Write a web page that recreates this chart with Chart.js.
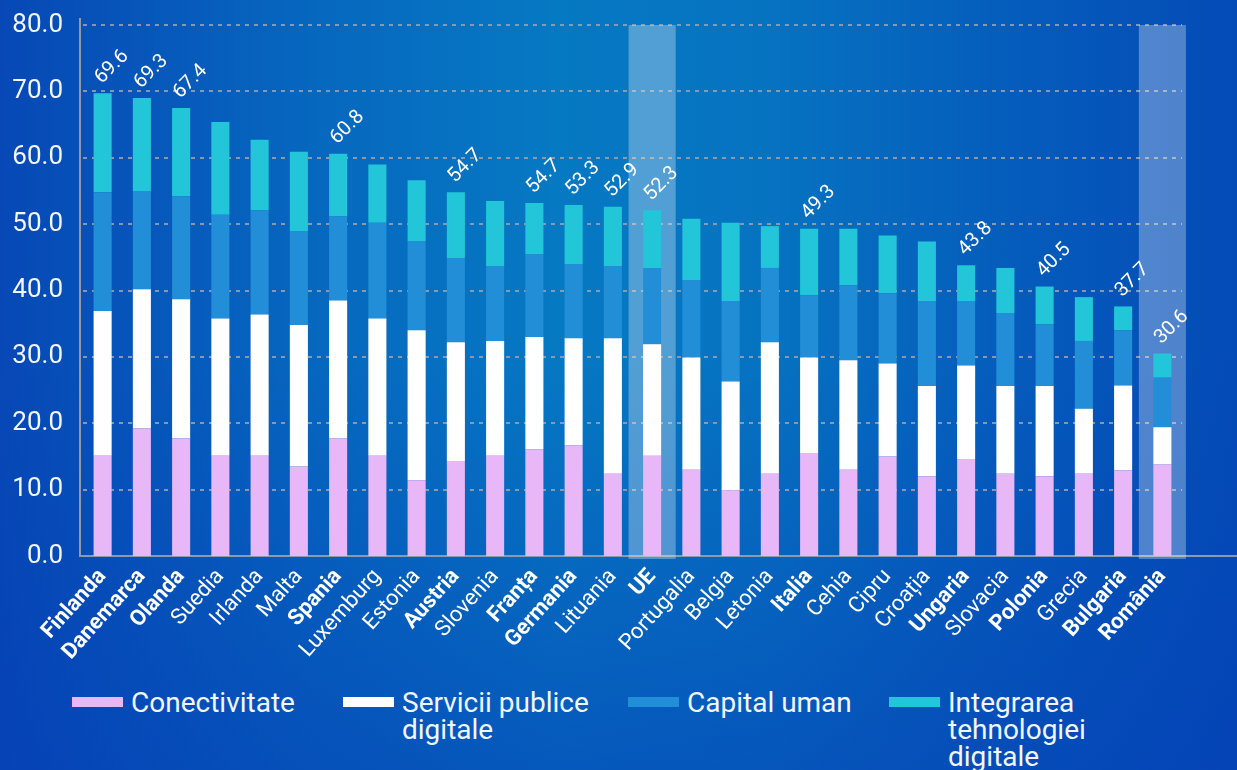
<!DOCTYPE html>
<html>
<head>
<meta charset="utf-8">
<script src="https://cdn.jsdelivr.net/npm/chart.js@4.4.0/dist/chart.umd.min.js"></script>
<style>
    html, body {
        margin: 0;
        padding: 0;
    }
    body {
        width: 1237px;
        height: 770px;
        overflow: hidden;
        position: relative;
        font-family: Roboto, 'Noto Sans', sans-serif;
        background:
            linear-gradient(180deg, rgba(4, 60, 180, 0) 45%, rgba(5, 62, 182, 0.55) 100%),
            linear-gradient(90deg, #0748b6 0%, #0667bf 25%, #0679c3 45%, #0673c1 62%, #055ebc 80%, #044bb7 100%);
    }
    #wrap {
        position: absolute;
        left: 0;
        top: 0;
        width: 1237px;
        height: 668px;
    }
    #legend {
        position: absolute;
        left: 72px;
        top: 689px;
        display: flex;
        align-items: flex-start;
        color: #f2f6ff;
        font-size: 28px;
        line-height: 27px;
    }
    .legend-item {
        display: flex;
        align-items: flex-start;
    }
    .legend-box {
        width: 51px;
        height: 10px;
        margin-top: 8px;
        margin-right: 8px;
        flex: none;
    }
    .legend-item:nth-child(1) { width: 271px; }
    .legend-item:nth-child(2) { width: 285px; }
    .legend-item:nth-child(2) .legend-text { width: 200px; }
    .legend-item:nth-child(3) { width: 261px; }
    .legend-item:nth-child(4) .legend-text { width: 150px; }
</style>
</head>
<body>
<div id="wrap"><canvas id="desi-chart"></canvas></div>
<div id="legend"></div>
<script>
const countries = ['Finlanda', 'Danemarca', 'Olanda', 'Suedia', 'Irlanda', 'Malta', 'Spania', 'Luxemburg', 'Estonia',
    'Austria', 'Slovenia', 'Franța', 'Germania', 'Lituania', 'UE', 'Portugalia', 'Belgia', 'Letonia', 'Italia',
    'Cehia', 'Cipru', 'Croația', 'Ungaria', 'Slovacia', 'Polonia', 'Grecia', 'Bulgaria', 'România'];

const boldCountries = ['Finlanda', 'Danemarca', 'Olanda', 'Spania', 'Austria', 'Franța', 'Germania', 'UE',
    'Italia', 'Ungaria', 'Polonia', 'Bulgaria', 'România'];

const highlighted = ['UE', 'România'];

const conectivitate = [15.1, 19.2, 17.7, 15.1, 15.1, 13.5, 17.7, 15.1, 11.4, 14.3, 15.1, 16.1, 16.7, 12.4,
    15.1, 13.0, 9.9, 12.4, 15.5, 13.0, 15.0, 12.0, 14.6, 12.4, 12.0, 12.4, 12.9, 13.8];
const serviciiPublice = [21.8, 21.0, 21.0, 20.7, 21.3, 21.3, 20.8, 20.7, 22.6, 17.9, 17.3, 16.9, 16.1, 20.4,
    16.8, 16.9, 16.4, 19.8, 14.4, 16.5, 14.0, 13.6, 14.1, 13.2, 13.6, 9.8, 12.8, 5.6];
const capitalUman = [17.9, 14.8, 15.5, 15.6, 15.7, 14.1, 12.7, 14.4, 13.4, 12.7, 11.3, 12.5, 11.2, 10.9,
    11.5, 11.7, 12.1, 11.2, 9.4, 11.3, 10.6, 12.8, 9.7, 11.0, 9.3, 10.2, 8.3, 7.5];
const integrare = [14.9, 14.0, 13.3, 14.0, 10.6, 12.0, 9.4, 8.8, 9.2, 9.9, 9.8, 7.7, 8.9, 8.9,
    8.7, 9.2, 11.8, 6.3, 10.0, 8.5, 8.7, 9.0, 5.4, 6.8, 5.7, 6.6, 3.6, 3.6];

// scoruri afisate deasupra barelor (doar pentru unele tari)
const scoreLabels = ['69.6', '69.3', '67.4', '', '', '', '60.8', '', '', '54.7', '', '54.7', '53.3', '52.9',
    '52.3', '', '', '', '49.3', '', '', '', '43.8', '', '40.5', '', '37.7', '30.6'];

const yTicks = [0, 10, 20, 30, 40, 50, 60, 70, 80];

const seriesColors = ['#e8b7f8', '#ffffff', '#228ed8', '#22c6d8'];

const axisColor = '#8e9aaa';

const highlightPlugin = {
    id: 'highlightBands',
    beforeDatasetsDraw(chart) {
        const { ctx, chartArea, scales } = chart;
        const xScale = scales.x;
        const yScale = scales.y;
        const base = yScale.getPixelForValue(0);
        ctx.save();

        // axis lines
        ctx.strokeStyle = axisColor;
        ctx.lineWidth = 2;
        ctx.beginPath();
        ctx.moveTo(chartArea.left - 3, chartArea.top - 7);
        ctx.lineTo(chartArea.left - 3, base + 1);
        ctx.moveTo(chartArea.left - 4, base);
        ctx.lineTo(chart.width, base);
        ctx.stroke();

        // bands for UE and Romania
        ctx.fillStyle = 'rgba(255, 255, 255, 0.3)';
        const half = xScale.width / countries.length * 0.6;
        highlighted.forEach(name => {
            const i = countries.indexOf(name);
            const x = xScale.getPixelForValue(i);
            ctx.fillRect(x - half, chartArea.top, half * 2, chartArea.bottom - chartArea.top + 3);
        });
        ctx.restore();
    }
};

const scoreLabelPlugin = {
    id: 'scoreLabels',
    afterDatasetsDraw(chart) {
        const { ctx } = chart;
        const topMeta = chart.getDatasetMeta(chart.data.datasets.length - 1);
        ctx.save();
        ctx.fillStyle = '#ffffff';
        ctx.font = '20px Roboto';
        ctx.textAlign = 'left';
        ctx.textBaseline = 'alphabetic';
        topMeta.data.forEach((bar, i) => {
            if (!scoreLabels[i]) return;
            ctx.save();
            ctx.translate(bar.x - 1, bar.y - 9);
            ctx.rotate(-Math.PI / 4);
            ctx.fillText(scoreLabels[i], 0, 0);
            ctx.restore();
        });
        ctx.restore();
    }
};

const ctx = document.getElementById('desi-chart').getContext('2d');

const chart = new Chart(ctx, {
    type: 'bar',
    data: {
        labels: countries,
        datasets: [
            { label: 'Conectivitate', data: conectivitate, backgroundColor: seriesColors[0] },
            { label: 'Servicii publice digitale', data: serviciiPublice, backgroundColor: seriesColors[1] },
            { label: 'Capital uman', data: capitalUman, backgroundColor: seriesColors[2] },
            { label: 'Integrarea tehnologiei digitale', data: integrare, backgroundColor: seriesColors[3] }
        ]
    },
    options: {
        responsive: true,
        maintainAspectRatio: false,
        animation: false,
        datasets: {
            bar: {
                barPercentage: 0.46,
                categoryPercentage: 1.0,
                borderWidth: 0
            }
        },
        layout: {
            padding: { top: 5, right: 55, left: 8, bottom: 0 }
        },
        plugins: {
            legend: { display: false },
            tooltip: { enabled: false }
        },
        scales: {
            x: {
                stacked: true,
                border: { display: false },
                grid: { display: false },
                afterFit: (scale) => {
                    scale.height = 112;
                },
                ticks: {
                    autoSkip: false,
                    minRotation: 48,
                    maxRotation: 48,
                    padding: 0,
                    color: '#ffffff',
                    font: (c) => ({
                        family: 'Roboto',
                        size: 22,
                        weight: boldCountries.includes(countries[c.index]) ? 'bold' : 'normal'
                    })
                }
            },
            y: {
                stacked: true,
                min: 0,
                max: 80,
                border: { display: false, dash: [4, 5] },
                afterBuildTicks: (scale) => {
                    scale.ticks = yTicks.map(v => ({ value: v }));
                },
                afterFit: (scale) => {
                    scale.width = 75;
                    scale.paddingTop = 25;
                },
                grid: {
                    color: 'rgba(150, 160, 172, 0.9)',
                    lineWidth: (c) => (c.tick && c.tick.value === 0 ? 0 : 2),
                    drawTicks: false
                },
                ticks: {
                    padding: 20,
                    color: '#f2f6ff',
                    font: { family: 'Roboto', size: 26 },
                    callback: (v) => Number(v).toFixed(1)
                }
            }
        }
    },
    plugins: [highlightPlugin, scoreLabelPlugin]
});

// html legend built from datasets
const legendEl = document.getElementById('legend');
chart.data.datasets.forEach(ds => {
    const item = document.createElement('div');
    item.className = 'legend-item';
    const box = document.createElement('span');
    box.className = 'legend-box';
    box.style.background = ds.backgroundColor;
    const text = document.createElement('span');
    text.className = 'legend-text';
    text.textContent = ds.label;
    item.appendChild(box);
    item.appendChild(text);
    legendEl.appendChild(item);
});
</script>
</body>
</html>
